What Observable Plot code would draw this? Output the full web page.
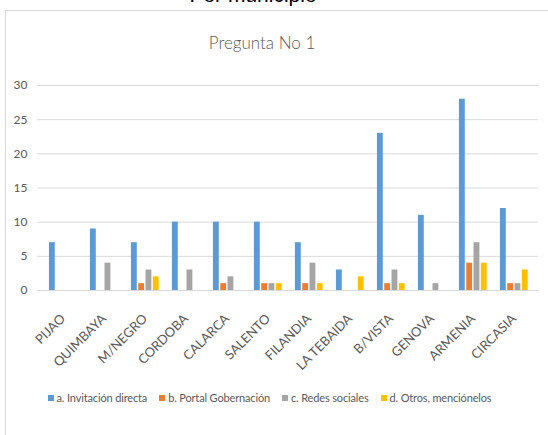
<!DOCTYPE html>
<html>
<head>
<meta charset="utf-8">
<script src="https://cdn.jsdelivr.net/npm/d3@7"></script>
<script src="https://cdn.jsdelivr.net/npm/@observablehq/plot@0.6"></script>
<style>
  html, body { margin: 0; padding: 0; background: #fff; }
  #page { position: relative; width: 548px; height: 435px; overflow: hidden; font-family: Lato, "Open Sans", sans-serif; }
  #top { position: absolute; left: 0; width: 506px; top: -17px; text-align: center; font: 21px "Liberation Sans", Arial, sans-serif; color: #000; }
  #box { position: absolute; left: 5px; top: 10px; width: 600px; height: 500px; border: 1px solid #d9d9d9; box-sizing: border-box; }
  #title { position: absolute; left: 0; width: 524px; top: 32px; text-align: center; font-size: 17px; font-weight: 300; color: #595959; }
  #chart { position: absolute; left: 0; top: 0; }
  #legend { position: absolute; left: 0; width: 539px; top: 391px; text-align: center; font-size: 11px; color: #595959; white-space: nowrap; letter-spacing: -0.15px; }
  #legend span.item { display: inline-block; margin: 0 6px; }
  #legend span.sw { display: inline-block; width: 6px; height: 6px; margin-right: 3px; vertical-align: 1px; }
</style>
</head>
<body>
<div id="page">
  <div id="top">Por municipio</div>
  <div id="box"></div>
  <div id="title">Pregunta No 1</div>
  <div id="chart"></div>
  <div id="legend"></div>
</div>
<script>
const categories = ["PIJAO","QUIMBAYA","M/NEGRO","CORDOBA","CALARCA","SALENTO","FILANDIA","LA TEBAIDA","B/VISTA","GENOVA","ARMENIA","CIRCASIA"];
const seriesNames = ["a. Invitación directa","b. Portal Gobernación","c. Redes sociales","d. Otros, menciónelos"];
const seriesColors = ["#5B9BD5","#ED7D31","#A5A5A5","#FFC000"];
const invitacionDirecta = [7, 9, 7, 10, 10, 10, 7, 3, 23, 11, 28, 12];
const portalGobernacion = [0, 0, 1, 0, 1, 1, 1, 0, 1, 0, 4, 1];
const redesSociales     = [0, 4, 3, 3, 2, 1, 4, 0, 3, 1, 7, 1];
const otros             = [0, 0, 2, 0, 0, 1, 1, 2, 1, 0, 4, 3];
const yTicks = [0, 5, 10, 15, 20, 25, 30];

const seriesValues = [invitacionDirecta, portalGobernacion, redesSociales, otros];
const rows = categories.flatMap((c, i) => seriesNames.map((s, j) => ({cat: c, series: s, j, value: seriesValues[j][i]})));

const W = 548, H = 380, ML = 37, MR = 10, MT = 85, MB = 90;
const bw = (W - ML - MR) / categories.length;
const step = 7.3, barW = 6.6;
const groupW = step * (seriesNames.length - 1) + barW;
const off0 = (bw - groupW) / 2 + 0.3;

const barMarks = seriesNames.map((s, j) => {
  const left = off0 + j * step;
  return Plot.barY(rows.filter(r => r.j === j && r.value > 0), {
    x: "cat", y: "value", fill: seriesColors[j],
    insetLeft: left, insetRight: bw - left - barW
  });
});

const plot = Plot.plot({
  width: W, height: H,
  marginLeft: ML, marginRight: MR, marginTop: MT, marginBottom: MB,
  style: {background: "transparent", fontFamily: "Lato, 'Open Sans', sans-serif", fontSize: "12px"},
  x: {type: "band", domain: categories, padding: 0, axis: null},
  y: {domain: [0, 30], axis: null},
  marks: [
    Plot.ruleY(yTicks, {stroke: "#d9d9d9", strokeWidth: 1}),
    ...barMarks,
    Plot.axisY({ticks: yTicks, tickSize: 0, tickPadding: 10, color: "#595959", fontSize: 12, label: null}),
    Plot.text(categories, {x: d => d, text: d => d, frameAnchor: "bottom", rotate: -45, textAnchor: "end", dy: 29, dx: 3, fill: "#595959", fontSize: 13})
  ]
});
document.getElementById("chart").appendChild(plot);

const legend = document.getElementById("legend");
seriesNames.forEach((s, j) => {
  const item = document.createElement("span");
  item.className = "item";
  const sw = document.createElement("span");
  sw.className = "sw";
  sw.style.background = seriesColors[j];
  item.appendChild(sw);
  item.appendChild(document.createTextNode(s));
  legend.appendChild(item);
});
</script>
</body>
</html>
